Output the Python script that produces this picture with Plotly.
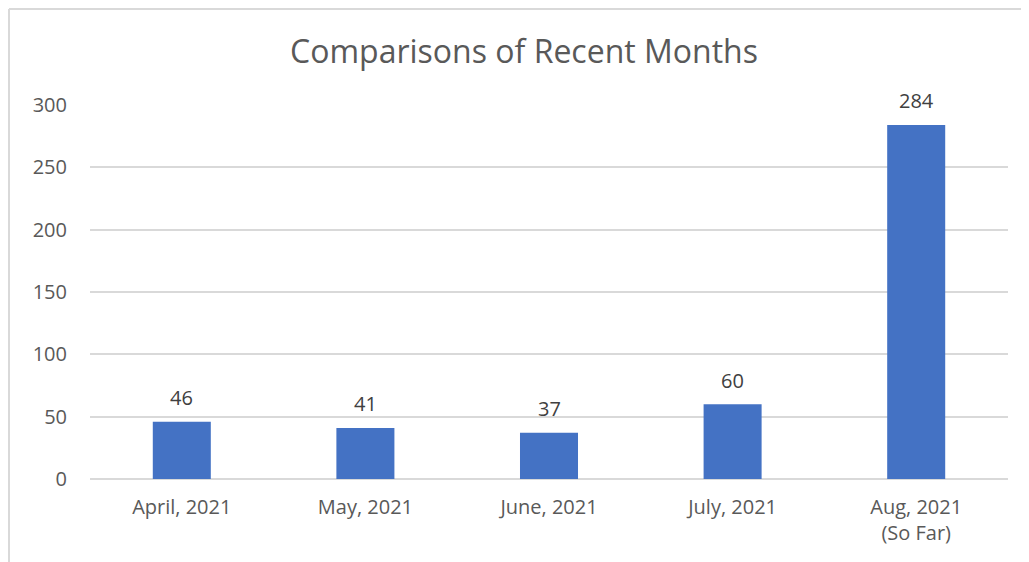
import plotly.graph_objects as go

categories = ["April, 2021", "May, 2021", "June, 2021", "July, 2021", "Aug, 2021<br>(So Far)"]
values = [46, 41, 37, 60, 284]
y_ticks = [0, 50, 100, 150, 200, 250, 300]

FONT = "Open Sans"
W, H = 1029, 562
# page is offset by 8px body margin
L, R, T, B = 82, 29, 97, 91

fig = go.Figure()
fig.add_trace(go.Bar(
    x=categories, y=values,
    marker=dict(color="#4472C4", line=dict(width=0)),
    width=0.316,
    hoverinfo="x+y",
))

for c, v in zip(categories, values):
    fig.add_annotation(x=c, y=v, text=str(v), showarrow=False, yshift=24,
                       font=dict(family=FONT, size=20, color="#404040"))

pw = W - L - R
ph = H - T - B
# border lines (top and left) in paper coords
fig.add_shape(type="line", xref="paper", yref="paper",
              x0=(1 - L) / pw, x1=(W - L) / pw + 0.02, y0=(H - 1 - B) / ph, y1=(H - 1 - B) / ph,
              line=dict(color="#d9d9d9", width=2))
fig.add_shape(type="line", xref="paper", yref="paper",
              x0=(1 - L) / pw, x1=(1 - L) / pw, y0=(H - 1 - B) / ph, y1=-B / ph - 0.02,
              line=dict(color="#d9d9d9", width=2))

fig.update_layout(
    width=W, height=H,
    margin=dict(l=L, r=R, t=T, b=B),
    paper_bgcolor="white", plot_bgcolor="white",
    title=dict(text="Comparisons of Recent Months", x=(524 - 8) / W, xanchor="center",
               y=1 - (52 - 8) / H, yanchor="middle",
               font=dict(family=FONT, size=32, color="#595959")),
    font=dict(family=FONT, color="#595959", size=20),
    showlegend=False,
)
fig.update_xaxes(showgrid=False, showline=False, zeroline=False, ticks="",
                 tickfont=dict(family=FONT, size=20, color="#595959"),
                 ticklabelstandoff=14)
fig.update_yaxes(range=[0, 300], tickvals=y_ticks, showgrid=True, gridcolor="#d9d9d9",
                 gridwidth=2, zeroline=True, zerolinecolor="#d9d9d9", zerolinewidth=2,
                 showline=False, ticks="", ticklabelstandoff=22,
                 tickfont=dict(family=FONT, size=20, color="#595959"))

fig.write_html("out.html")
